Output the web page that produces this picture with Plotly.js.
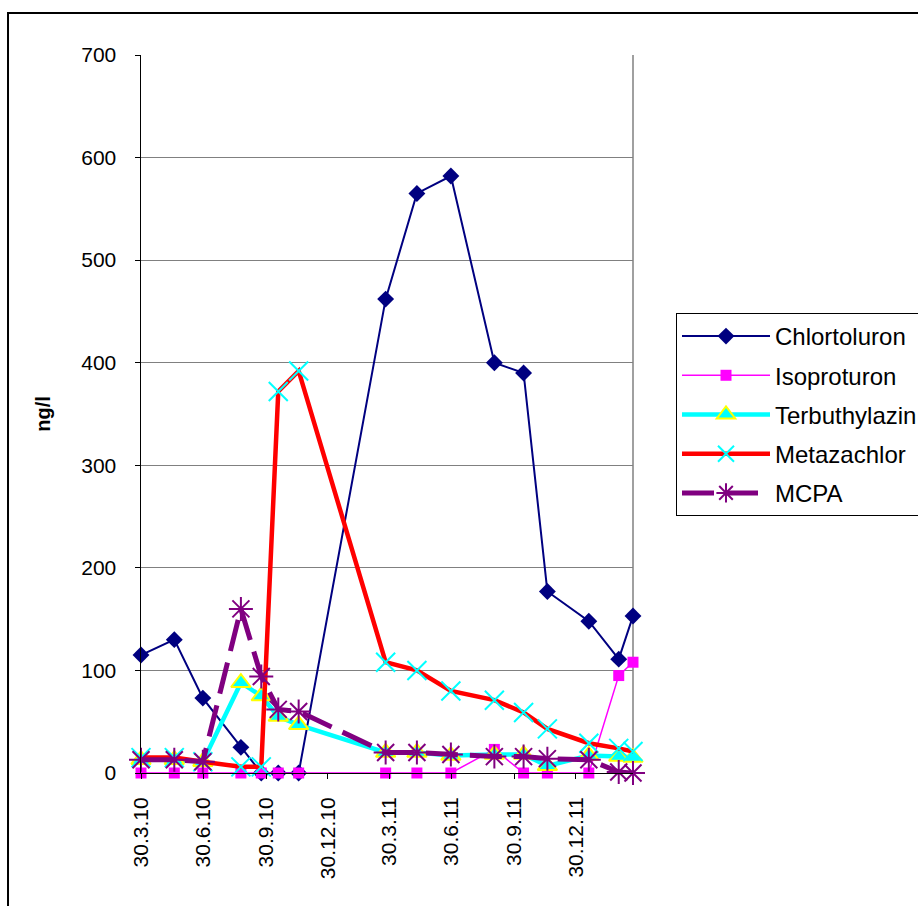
<!DOCTYPE html>
<html>
<head>
<meta charset="utf-8">
<script src="https://cdn.plot.ly/plotly-3.0.1.min.js"></script>
<style>
  html, body { margin: 0; padding: 0; background: #fff; overflow: hidden; }
  #chart { width: 960px; height: 906px; }
</style>
</head>
<body>
<div id="chart"></div>
<script>
// Sampling dates (shared by all substances)
const sampleDates = ['2010-03-30','2010-05-18','2010-06-29','2010-08-24','2010-09-23','2010-10-18','2010-11-17',
  '2011-03-25','2011-05-10','2011-06-29','2011-09-01','2011-10-14','2011-11-18','2012-01-18','2012-03-02','2012-03-23'];

// Concentrations in ng/l
const chlortoluron   = [115, 130, 73, 25, 0, 0, 0, 462, 565, 582, 400, 390, 177, 148, 111, 153];
const isoproturon    = [0, 0, 0, 0, 0, 0, 0, 0, 0, 0, 23, 0, 0, 0, 95, 108];
const terbuthylazin  = [13, 13, 11, 88, 75, 55, 47, 20, 20, 17, 18, 18, 7, 17, 16, 15];
const metazachlor    = [15, 15, 11, 6, 6, 372, 392, 108, 100, 80, 71, 59, 43, 29, 24, 21];
const mcpa           = [13, 13, 11, 160, 94, 62, 60, 20, 20, 18, 16, 16, 14, 13, 1, 0];

// Quarterly tick marks on the date axis
const tickDates  = ['2010-03-30','2010-06-30','2010-09-30','2010-12-30','2011-03-30','2011-06-30','2011-09-30','2011-12-30'];
const tickLabels = ['30.3.10','30.6.10','30.9.10','30.12.10','30.3.11','30.6.11','30.9.11','30.12.11'];

const font = 'Arial, "Liberation Sans", sans-serif';

const traces = [
  {
    name: 'Chlortoluron', x: sampleDates, y: chlortoluron, legendgroup: 'g1',
    mode: 'lines+markers', cliponaxis: false,
    line: { color: '#000080', width: 2 },
    marker: { symbol: 'diamond', size: 13, color: '#000080' }
  },
  {
    name: 'Isoproturon', x: sampleDates, y: isoproturon, legendgroup: 'g2',
    mode: 'lines+markers', cliponaxis: false,
    line: { color: '#FF00FF', width: 1.5 },
    marker: { symbol: 'square', size: 11, color: '#FF00FF' }
  },
  {
    name: 'Terbuthylazin', x: sampleDates, y: terbuthylazin, legendgroup: 'g3',
    mode: 'lines+markers', cliponaxis: false,
    line: { color: '#00FFFF', width: 4.5 },
    marker: { symbol: 'triangle-up', size: 17, color: '#00FFFF', line: { color: '#FFFF00', width: 2 } }
  },
  {
    name: 'Metazachlor', x: sampleDates, y: metazachlor, legendgroup: 'g4',
    mode: 'lines+markers', cliponaxis: false,
    line: { color: '#FF0000', width: 4.5 },
    marker: { symbol: 'x-thin-open', size: 19, color: '#00FFFF', line: { width: 2 } }
  },
  {
    name: 'MCPA', x: sampleDates, y: mcpa, legendgroup: 'g5',
    mode: 'lines+markers', cliponaxis: false,
    line: { color: '#800080', width: 5, dash: '32px,12px' },
    marker: { symbol: 'asterisk-open', size: 20, color: '#800080', line: { width: 2 } }
  }
];

const layout = {
  width: 960, height: 906,
  margin: { l: 141, r: 327, t: 55, b: 133, pad: 0 },
  paper_bgcolor: '#ffffff', plot_bgcolor: '#ffffff',
  font: { family: font, color: '#000' },
  showlegend: true,
  xaxis: {
    type: 'date',
    range: ['2010-03-30', '2012-03-23'],
    tickmode: 'array', tickvals: tickDates, ticktext: tickLabels,
    tickangle: -90,
    tickfont: { family: font, size: 21, color: '#000' },
    ticks: 'outside', ticklen: 5, tickcolor: '#000', tickwidth: 1,
    ticklabelstandoff: 10,
    showgrid: false, zeroline: false,
    showline: true, linecolor: '#000', linewidth: 1
  },
  yaxis: {
    range: [0, 700], dtick: 100, tick0: 0,
    tickfont: { family: font, size: 21, color: '#000' },
    ticks: 'outside', ticklen: 5, tickcolor: '#000', tickwidth: 1,
    ticklabelstandoff: 14,
    showgrid: true, gridcolor: '#808080', gridwidth: 1,
    zeroline: false,
    showline: true, linecolor: '#000', linewidth: 1.5,
    title: { text: '<b>ng/l</b>', font: { family: font, size: 20, color: '#000' }, standoff: 25 },
    automargin: false
  },
  legend: {
    x: 1.0874, y: 0.6407, xanchor: 'left', yanchor: 'top',
    bgcolor: '#ffffff', bordercolor: '#000', borderwidth: 1,
    font: { family: font, size: 24, color: '#000' },
    tracegroupgap: 5, itemwidth: 88
  },
  shapes: [
    // right edge of the plot area
    { type: 'line', xref: 'paper', yref: 'paper', x0: 1, x1: 1, y0: 0, y1: 1,
      line: { color: '#808080', width: 1.5 }, layer: 'below' },
    // chart area frame
    { type: 'rect', xref: 'paper', yref: 'paper', x0: -0.2703, x1: 1.66, y0: -0.195, y1: 1.0585,
      line: { color: '#000', width: 2 }, fillcolor: 'rgba(0,0,0,0)', layer: 'above' }
  ]
};

Plotly.newPlot('chart', traces, layout, { displayModeBar: false, staticPlot: true });
</script>
</body>
</html>
